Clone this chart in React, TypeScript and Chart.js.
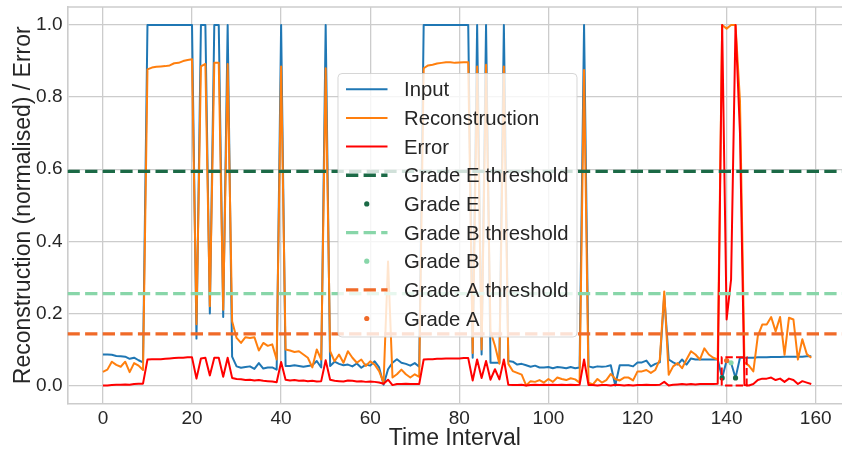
import { useEffect, useRef } from 'react';
import { Chart, registerables } from 'chart.js';

Chart.register(...registerables);

// Time interval index for every sample
const TIME: number[] = Array.from({ length: 160 }, (_, i) => i);

const INPUT: number[] = [
  0.086, 0.086, 0.085, 0.082, 0.081, 0.080, 0.074, 0.077, 0.070, 0.064,
  1, 1, 1, 1, 1, 1, 1, 1, 1, 1, 1,
  0.13, 1, 1, 0.20, 1, 1, 0.19, 1, 0.080,
  0.053, 0.049, 0.051, 0.053, 0.046, 0.062, 0.047, 0.050, 0.050, 0.044,
  1, 0.054, 0.054, 0.056, 0.054, 0.052, 0.054, 0.056, 0.068, 0.050,
  1, 0.054, 0.066, 0.060, 0.056, 0.058, 0.053, 0.061, 0.049, 0.058,
  0.055, 0.067, 0.050, 0.002, 0.045, 0.063, 0.073, 0.063, 0.060, 0.055,
  0.062, 0.052,
  1, 1, 1, 1, 1, 1, 1, 1, 1, 1, 1,
  0.077, 1, 0.086, 1, 0.063, 0.063, 0.063, 1,
  0.068, 0.066, 0.058, 0.060, 0.056, 0.052, 0.055, 0.050, 0.050,
  0.051, 0.048, 0.051, 0.050, 0.048, 0.051, 0.048, 0.050, 1, 0.053,
  0.050, 0.053, 0.052, 0.053, 0.056, 0.000, 0.056, 0.056, 0.056, 0.053,
  0.064, 0.064, 0.069, 0.053, 0.060, 0.064, 0.250, 0.072, 0.064, 0.058,
  0.072, 0.058, 0.075, 0.072, 0.072, 0.072, 0.072, 0.072, 0.072, 0.021,
  0.069, 0.063, 0.021, 0.077, 0.077, 0.077, 0.077, 0.078, 0.078, 0.078,
  0.079, 0.079, 0.079, 0.080, 0.080, 0.080, 0.080, 0.080, 0.081, 0.081,
];

const RECONSTRUCTION: number[] = [
  0.038, 0.044, 0.066, 0.057, 0.052, 0.066, 0.037, 0.062, 0.055, 0.043,
  0.877, 0.882, 0.884, 0.885, 0.886, 0.888, 0.894, 0.895, 0.900, 0.903, 0.905,
  0.170, 0.885, 0.892, 0.220, 0.895, 0.895, 0.210, 0.892, 0.178,
  0.132, 0.118, 0.134, 0.132, 0.134, 0.097, 0.118, 0.110, 0.114, 0.072,
  0.885, 0.100, 0.097, 0.093, 0.095, 0.086, 0.077, 0.050, 0.100, 0.072,
  0.880, 0.095, 0.067, 0.086, 0.063, 0.095, 0.077, 0.063, 0.072, 0.054,
  0.067, 0.058, 0.040, 0.008, 0.344, 0.022, 0.031, 0.044, 0.031, 0.022,
  0.031, 0.024,
  0.880, 0.888, 0.890, 0.893, 0.895, 0.897, 0.897, 0.895, 0.896, 0.897, 0.897,
  0.090, 0.885, 0.100, 0.890, 0.150, 0.110, 0.060, 0.885,
  0.060, 0.040, 0.035, 0.030, 0.000, 0.012, 0.010, 0.015, 0.008,
  0.018, 0.010, 0.022, 0.018, 0.015, 0.020, 0.017, 0.008, 0.875, 0.008,
  0.003, 0.018, 0.008, 0.015, 0.032, 0.018, 0.014, 0.022, 0.022, 0.014,
  0.039, 0.039, 0.043, 0.035, 0.043, 0.072, 0.261, 0.030, 0.053, 0.062,
  0.048, 0.072, 0.095, 0.086, 0.072, 0.103, 0.086, 0.077, 0.072, 1.000,
  0.990, 1.000, 1.000, 0.790, 0.064, 0.055, 0.039, 0.137, 0.169, 0.169,
  0.190, 0.150, 0.190, 0.085, 0.188, 0.183, 0.072, 0.128, 0.087, 0.077,
];

const ERROR: number[] = [
  0.000, 0.000, 0.001, 0.002, 0.002, 0.003, 0.002, 0.004, 0.005, 0.005,
  0.072, 0.073, 0.073, 0.073, 0.074, 0.075, 0.076, 0.077, 0.077, 0.078, 0.078,
  0.019, 0.075, 0.077, 0.028, 0.077, 0.077, 0.024, 0.077, 0.021,
  0.018, 0.017, 0.015, 0.016, 0.014, 0.015, 0.013, 0.012, 0.011, 0.009,
  0.065, 0.016, 0.014, 0.015, 0.013, 0.014, 0.012, 0.013, 0.011, 0.012,
  0.070, 0.016, 0.013, 0.012, 0.011, 0.014, 0.013, 0.011, 0.012, 0.010,
  0.011, 0.010, 0.008, 0.005, 0.016, 0.001, 0.004, 0.004, 0.005, 0.004,
  0.004, 0.004,
  0.072, 0.073, 0.073, 0.074, 0.074, 0.075, 0.075, 0.075, 0.075, 0.076, 0.076,
  0.014, 0.072, 0.021, 0.068, 0.016, 0.045, 0.017, 0.072,
  0.002, 0.001, 0.001, 0.002, 0.000, 0.001, 0.002, 0.001, 0.002,
  0.001, 0.002, 0.001, 0.002, 0.001, 0.002, 0.001, 0.002, 0.072, 0.001,
  0.001, 0.000, 0.001, 0.001, 0.000, 0.002, 0.001, 0.000, 0.001, 0.000,
  0.001, 0.001, 0.002, 0.001, 0.001, 0.002, 0.010, 0.000, 0.002, 0.003,
  0.004, 0.003, 0.004, 0.003, 0.004, 0.004, 0.004, 0.004, 0.005, 1.000,
  0.183, 0.294, 1.000, 0.700, 0.001, 0.000, 0.004, 0.015, 0.019, 0.019,
  0.022, 0.015, 0.019, 0.010, 0.019, 0.015, 0.004, 0.012, 0.008, 0.004,
];

// Grade thresholds on the error scale
const GRADE_E_THRESHOLD = 0.594;
const GRADE_B_THRESHOLD = 0.255;
const GRADE_A_THRESHOLD = 0.143;

// Time intervals flagged with each grade (marked on the input curve)
const GRADE_E_INTERVALS: number[] = [139, 142];
const GRADE_B_INTERVALS: number[] = [141];
const GRADE_A_INTERVALS: number[] = [140];

// Highlighted anomaly window
const WINDOW_X: number[] = [138.9, 144.5];
const WINDOW_Y: number[] = [0, 0.078];

const X_TICKS: number[] = [0, 20, 40, 60, 80, 100, 120, 140, 160];
const Y_TICKS: number[] = [0, 0.2, 0.4, 0.6, 0.8, 1.0];
const X_RANGE: number[] = [-7.95, 165.9];
const Y_RANGE: number[] = [-0.05, 1.05];

const BLUE = '#1f77b4';
const ORANGE = '#ff7f0e';
const RED = '#ff0000';
const GRADE_E_COLOR = '#1b6a46';
const GRADE_B_COLOR = '#88d6a9';
const GRADE_A_COLOR = '#f06a28';
const TEXT = '#262626';
const GRID = '#cccccc';
const FONT = "'Liberation Sans', Arial, sans-serif";

const THRESHOLD_WIDTH = 3.3;
const THRESHOLD_DASH = [12.3, 5.3];

// Plot frame in canvas pixels
const PLOT_TOP = 7;
const PLOT_LEFT = 67.5;
const PLOT_BOTTOM = 403.5;

type LegendItem = { label: string; kind: 'line' | 'dash' | 'dot'; color: string };
const LEGEND_ITEMS: LegendItem[] = [
  { label: 'Input', kind: 'line', color: BLUE },
  { label: 'Reconstruction', kind: 'line', color: ORANGE },
  { label: 'Error', kind: 'line', color: RED },
  { label: 'Grade E threshold', kind: 'dash', color: GRADE_E_COLOR },
  { label: 'Grade E', kind: 'dot', color: GRADE_E_COLOR },
  { label: 'Grade B threshold', kind: 'dash', color: GRADE_B_COLOR },
  { label: 'Grade B', kind: 'dot', color: GRADE_B_COLOR },
  { label: 'Grade A threshold', kind: 'dash', color: GRADE_A_COLOR },
  { label: 'Grade A', kind: 'dot', color: GRADE_A_COLOR },
];

const series = (values: number[]) => TIME.map((t, i) => ({ x: t, y: values[i] }));
const hline = (y: number) => [{ x: X_RANGE[0], y }, { x: X_RANGE[1], y }];
const gradePoints = (idx: number[]) => idx.map((i) => ({ x: TIME[i], y: INPUT[i] }));

// Top spine (the right one falls outside the canvas)
const framePlugin = {
  id: 'frame',
  beforeDatasetsDraw(chart: any) {
    const { ctx, chartArea } = chart;
    ctx.save();
    ctx.strokeStyle = GRID;
    ctx.lineWidth = 1.6;
    ctx.beginPath();
    ctx.moveTo(chartArea.left, chartArea.top);
    ctx.lineTo(chartArea.right, chartArea.top);
    ctx.stroke();
    ctx.restore();
  },
};

// Keep the plot top fixed regardless of label overhang
const pinTopPlugin = {
  id: 'pinTop',
  afterLayout(chart: any) {
    const area = chart.chartArea;
    if (Math.abs(area.top - PLOT_TOP) > 0.01) {
      const y = chart.scales.y;
      area.top = PLOT_TOP;
      y.top = PLOT_TOP;
      y.height = area.bottom - PLOT_TOP;
      y.configure();
      chart.scales.x.configure();
    }
  },
};

// Legend box centred on the axes, drawn over the data
const legendPlugin = {
  id: 'gradeLegend',
  afterDraw(chart: any) {
    const { ctx } = chart;
    const boxX = 338;
    const boxY = 73.5;
    const boxW = 239;
    const boxH = 263.5;
    const rowTop = 89.3;
    const rowStep = 28.65;
    const handleX0 = 346;
    const handleX1 = 387.5;
    const textX = 404;
    ctx.save();
    ctx.beginPath();
    ctx.roundRect(boxX, boxY, boxW, boxH, 4);
    ctx.fillStyle = 'rgba(255,255,255,0.8)';
    ctx.fill();
    ctx.strokeStyle = 'rgba(204,204,204,0.8)';
    ctx.lineWidth = 1;
    ctx.stroke();

    LEGEND_ITEMS.forEach((item, k) => {
      const cy = rowTop + k * rowStep;
      ctx.save();
      if (item.kind === 'line') {
        ctx.strokeStyle = item.color;
        ctx.lineWidth = 2;
        ctx.beginPath();
        ctx.moveTo(handleX0, cy);
        ctx.lineTo(handleX1, cy);
        ctx.stroke();
      } else if (item.kind === 'dash') {
        ctx.strokeStyle = item.color;
        ctx.lineWidth = THRESHOLD_WIDTH;
        ctx.setLineDash(THRESHOLD_DASH);
        ctx.beginPath();
        ctx.moveTo(handleX0, cy);
        ctx.lineTo(handleX1, cy);
        ctx.stroke();
      } else {
        ctx.fillStyle = item.color;
        ctx.beginPath();
        ctx.arc((handleX0 + handleX1) / 2, cy, 2.6, 0, Math.PI * 2);
        ctx.fill();
      }
      ctx.restore();
      ctx.fillStyle = TEXT;
      ctx.font = `20.3px ${FONT}`;
      ctx.textAlign = 'left';
      ctx.textBaseline = 'alphabetic';
      ctx.fillText(item.label, textX, cy + 7);
    });
    ctx.restore();
  },
};

export default function App() {
  const canvasRef = useRef<HTMLCanvasElement | null>(null);

  useEffect(() => {
    if (!canvasRef.current) return;
    Chart.defaults.font.family = FONT;
    Chart.defaults.color = TEXT;

    const lineBase = {
      pointRadius: 0,
      pointHoverRadius: 0,
      borderWidth: 2,
      tension: 0,
      fill: false,
      borderJoinStyle: 'round' as const,
    };
    const thresholdBase = {
      pointRadius: 0,
      borderWidth: THRESHOLD_WIDTH,
      borderDash: THRESHOLD_DASH,
      borderCapStyle: 'butt' as const,
      fill: false,
    };
    const dotBase = {
      showLine: false,
      pointRadius: 2.6,
      pointBorderWidth: 0,
    };

    const chart = new Chart(canvasRef.current, {
      type: 'line',
      data: {
        datasets: [
          { ...lineBase, label: 'Input', data: series(INPUT), borderColor: BLUE, order: 20 },
          { ...lineBase, label: 'Reconstruction', data: series(RECONSTRUCTION), borderColor: ORANGE, order: 19 },
          { ...lineBase, label: 'Error', data: series(ERROR), borderColor: RED, order: 18 },
          { ...thresholdBase, label: 'Grade E threshold', data: hline(GRADE_E_THRESHOLD), borderColor: GRADE_E_COLOR, order: 17 },
          { ...dotBase, label: 'Grade E', data: gradePoints(GRADE_E_INTERVALS), pointBackgroundColor: GRADE_E_COLOR, borderColor: GRADE_E_COLOR, order: 16 },
          { ...thresholdBase, label: 'Grade B threshold', data: hline(GRADE_B_THRESHOLD), borderColor: GRADE_B_COLOR, order: 15 },
          { ...dotBase, label: 'Grade B', data: gradePoints(GRADE_B_INTERVALS), pointBackgroundColor: GRADE_B_COLOR, borderColor: GRADE_B_COLOR, order: 14 },
          { ...thresholdBase, label: 'Grade A threshold', data: hline(GRADE_A_THRESHOLD), borderColor: GRADE_A_COLOR, order: 13 },
          { ...dotBase, label: 'Grade A', data: gradePoints(GRADE_A_INTERVALS), pointBackgroundColor: GRADE_A_COLOR, borderColor: GRADE_A_COLOR, order: 12 },
          {
            label: 'Window',
            data: [
              { x: WINDOW_X[0], y: WINDOW_Y[0] },
              { x: WINDOW_X[0], y: WINDOW_Y[1] },
              { x: WINDOW_X[1], y: WINDOW_Y[1] },
              { x: WINDOW_X[1], y: WINDOW_Y[0] },
              { x: WINDOW_X[0], y: WINDOW_Y[0] },
            ],
            borderColor: RED,
            borderWidth: 2,
            borderDash: [7.4, 3.2],
            pointRadius: 0,
            fill: false,
            order: 11,
          },
        ],
      },
      options: {
        animation: false,
        responsive: false,
        devicePixelRatio: 1,
        layout: { autoPadding: false, padding: 0 },
        plugins: { legend: { display: false }, tooltip: { enabled: false } },
        scales: {
          x: {
            type: 'linear',
            min: X_RANGE[0],
            max: X_RANGE[1],
            afterBuildTicks: (scale: any) => {
              scale.ticks = X_TICKS.map((v) => ({ value: v }));
            },
            afterFit: (scale: any) => {
              scale.height = 452 - PLOT_BOTTOM;
            },
            grid: { color: GRID, lineWidth: 1.3, drawTicks: false },
            border: { display: true, color: GRID, width: 1.6 },
            ticks: {
              color: TEXT,
              font: { size: 19 },
              padding: 3.5,
              maxRotation: 0,
              autoSkip: false,
              callback: (v: any) => String(v),
            },
            title: {
              display: true,
              text: 'Time Interval',
              color: TEXT,
              font: { size: 23 },
              padding: { top: 0, bottom: 0 },
            },
          },
          y: {
            type: 'linear',
            min: Y_RANGE[0],
            max: Y_RANGE[1],
            afterBuildTicks: (scale: any) => {
              scale.ticks = Y_TICKS.map((v) => ({ value: v }));
            },
            afterFit: (scale: any) => {
              scale.width = PLOT_LEFT;
              scale.paddingTop = 0;
              scale.paddingBottom = 0;
            },
            grid: { color: GRID, lineWidth: 1.3, drawTicks: false },
            border: { display: true, color: GRID, width: 1.6 },
            ticks: {
              color: TEXT,
              font: { size: 19 },
              padding: 5,
              autoSkip: false,
              callback: (v: any) => Number(v).toFixed(1),
            },
            title: {
              display: true,
              text: 'Reconstruction (normalised) / Error',
              color: TEXT,
              font: { size: 23 },
              padding: { top: 10, bottom: 0 },
            },
          },
        },
      },
      plugins: [pinTopPlugin, framePlugin, legendPlugin],
    });

    return () => chart.destroy();
  }, []);

  return (
    <div style={{ position: 'fixed', left: 0, top: 0, width: 842, height: 452, background: '#ffffff' }}>
      <canvas ref={canvasRef} width={842} height={452} style={{ display: 'block' }} />
    </div>
  );
}
